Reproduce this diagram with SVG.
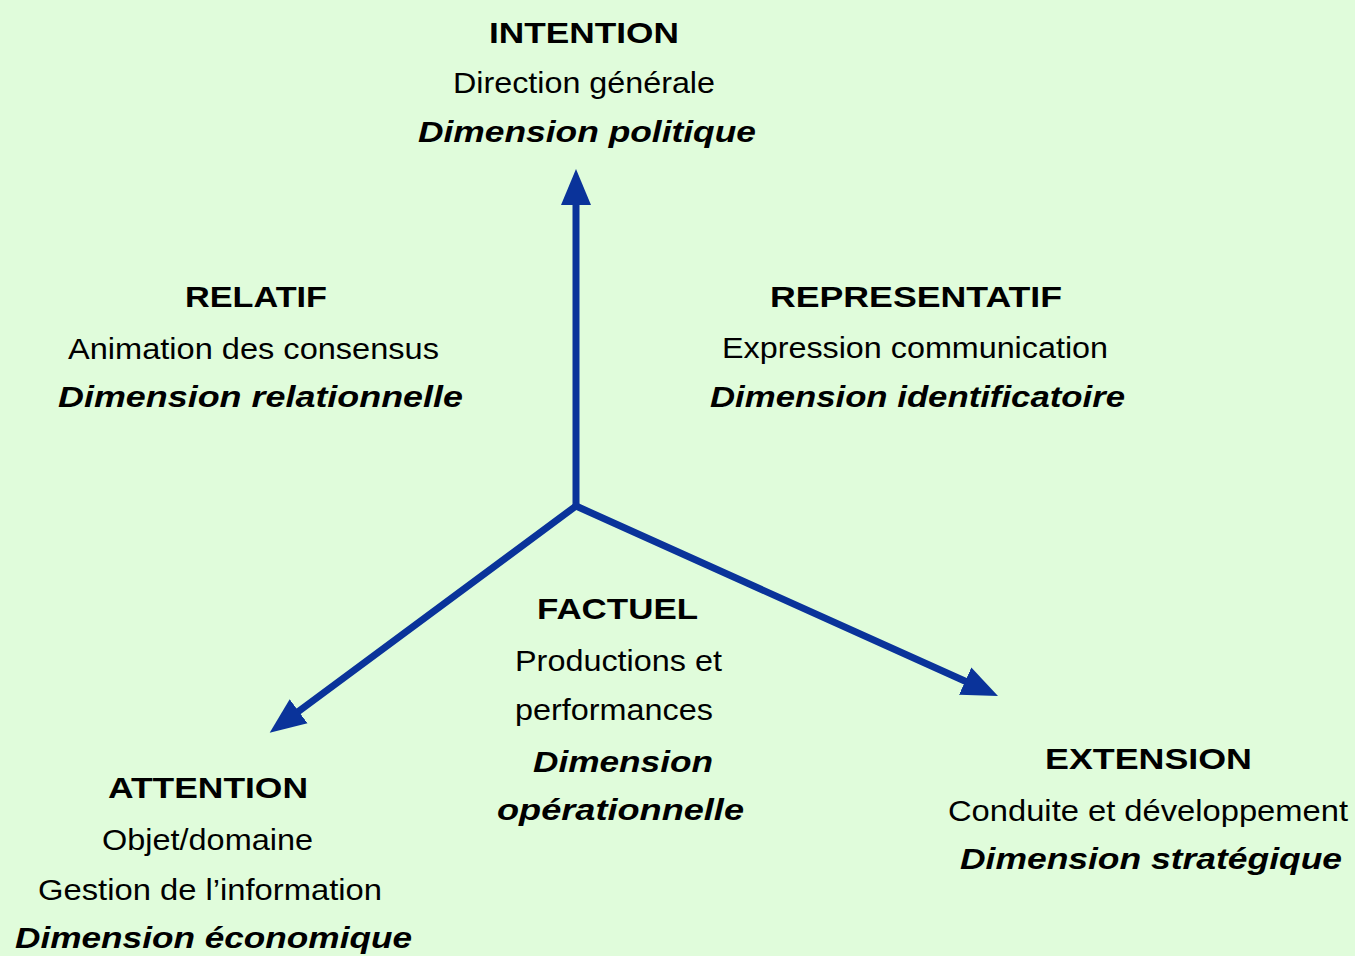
<svg xmlns="http://www.w3.org/2000/svg" width="1355" height="956" viewBox="0 0 1355 956">
<style>
text{font-family:"Liberation Sans",Arial,sans-serif;font-size:30px;fill:#000}
.t{font-weight:bold}
.s{font-weight:normal}
.d{font-weight:bold;font-style:italic}
.ax{stroke:#0A339A;stroke-width:7;fill:none;stroke-linecap:round}
</style>
<defs>
<marker id="ah" viewBox="0 -16 36 32" refX="2" refY="0" markerWidth="36" markerHeight="32" markerUnits="userSpaceOnUse" orient="auto">
<path d="M0,-15 L36,0 L0,15 z" fill="#0A339A"/>
</marker>
</defs>
<rect width="1355" height="956" fill="#E0FCDB"/>
<g id="connectors">
<line class="ax" x1="576" y1="506" x2="576" y2="203" marker-end="url(#ah)"/>
<line class="ax" x1="576" y1="506" x2="297" y2="712.5" marker-end="url(#ah)"/>
<line class="ax" x1="576" y1="506" x2="967" y2="682" marker-end="url(#ah)"/>
</g>
<g id="intention">
<text class="t" x="489" y="43" textLength="190" lengthAdjust="spacingAndGlyphs">INTENTION</text>
<text class="s" x="453" y="93" textLength="262" lengthAdjust="spacingAndGlyphs">Direction générale</text>
<text class="d" x="418" y="142" textLength="338" lengthAdjust="spacingAndGlyphs">Dimension politique</text>
</g>
<g id="relatif">
<text class="t" x="185" y="307" textLength="142" lengthAdjust="spacingAndGlyphs">RELATIF</text>
<text class="s" x="68" y="359" textLength="371" lengthAdjust="spacingAndGlyphs">Animation des consensus</text>
<text class="d" x="58" y="407" textLength="405" lengthAdjust="spacingAndGlyphs">Dimension relationnelle</text>
</g>
<g id="representatif">
<text class="t" x="770" y="307" textLength="292" lengthAdjust="spacingAndGlyphs">REPRESENTATIF</text>
<text class="s" x="722" y="358" textLength="386" lengthAdjust="spacingAndGlyphs">Expression communication</text>
<text class="d" x="710" y="407" textLength="415" lengthAdjust="spacingAndGlyphs">Dimension identificatoire</text>
</g>
<g id="factuel">
<text class="t" x="537" y="619" textLength="161" lengthAdjust="spacingAndGlyphs">FACTUEL</text>
<text class="s" x="515" y="671" textLength="207" lengthAdjust="spacingAndGlyphs">Productions et</text>
<text class="s" x="515" y="720" textLength="198" lengthAdjust="spacingAndGlyphs">performances</text>
<text class="d" x="533" y="772" textLength="180" lengthAdjust="spacingAndGlyphs">Dimension</text>
<text class="d" x="497" y="820" textLength="247" lengthAdjust="spacingAndGlyphs">opérationnelle</text>
</g>
<g id="attention">
<text class="t" x="108" y="798" textLength="200" lengthAdjust="spacingAndGlyphs">ATTENTION</text>
<text class="s" x="102" y="850" textLength="211" lengthAdjust="spacingAndGlyphs">Objet/domaine</text>
<text class="s" x="38" y="900" textLength="344" lengthAdjust="spacingAndGlyphs">Gestion de l’information</text>
<text class="d" x="15" y="948" textLength="397" lengthAdjust="spacingAndGlyphs">Dimension économique</text>
</g>
<g id="extension">
<text class="t" x="1045" y="769" textLength="207" lengthAdjust="spacingAndGlyphs">EXTENSION</text>
<text class="s" x="948" y="821" textLength="400" lengthAdjust="spacingAndGlyphs">Conduite et développement</text>
<text class="d" x="960" y="869" textLength="382" lengthAdjust="spacingAndGlyphs">Dimension stratégique</text>
</g>
</svg>
